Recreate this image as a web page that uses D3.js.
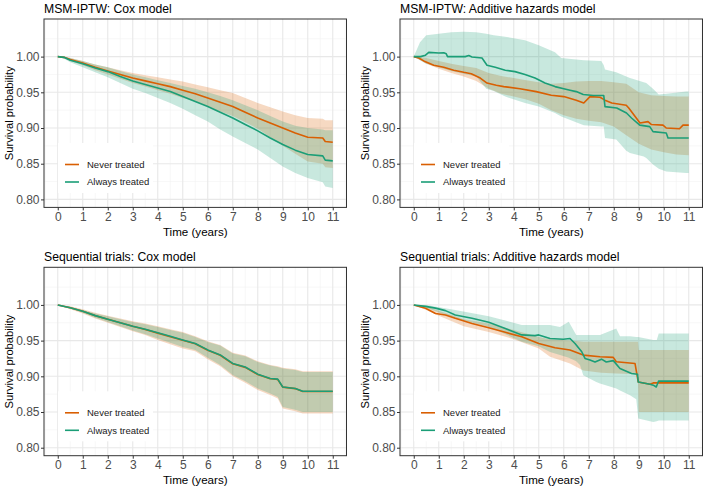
<!DOCTYPE html>
<html><head><meta charset="utf-8">
<script src="https://cdn.jsdelivr.net/npm/d3@7"></script>
<style>body{margin:0;background:#fff}svg{display:block}text{font-family:"Liberation Sans",Arial,sans-serif}</style>
</head><body>
<svg id="chart" width="709" height="492"></svg>
<script>
// ---------- data ----------
const categories = ["Never treated", "Always treated"];
const panelTitles = ["MSM-IPTW: Cox model", "MSM-IPTW: Additive hazards model",
  "Sequential trials: Cox model", "Sequential trials: Additive hazards model"];
const xTicks = [0,1,2,3,4,5,6,7,8,9,10,11];
const yTicks = [0.80,0.85,0.90,0.95,1.00];
const xLabel = "Time (years)";
const yLabel = "Survival probability";

// Panel 1: MSM-IPTW Cox
const p1T = [0,0.25,0.5,1,1.5,2,2.5,3,3.5,4,4.5,5,5.5,6,6.5,7,7.5,8,8.5,9,9.5,10,10.6,10.7,11];
const p1NeverEst = [1.000,0.999,0.996,0.991,0.985,0.980,0.975,0.970,0.966,0.962,0.958,0.953,0.948,0.942,0.936,0.930,0.922,0.914,0.907,0.900,0.893,0.887,0.886,0.881,0.880];
const p1NeverLo  = [1.000,0.998,0.994,0.988,0.981,0.975,0.969,0.963,0.958,0.953,0.948,0.942,0.937,0.930,0.923,0.917,0.908,0.899,0.887,0.875,0.864,0.853,0.850,0.845,0.844];
const p1NeverHi  = [1.000,1.000,0.998,0.994,0.989,0.985,0.981,0.977,0.974,0.971,0.968,0.965,0.961,0.957,0.953,0.949,0.942,0.935,0.929,0.923,0.918,0.914,0.913,0.911,0.911];
const p1AlwaysEst = [1.000,0.999,0.995,0.990,0.984,0.979,0.972,0.966,0.961,0.956,0.951,0.944,0.937,0.930,0.922,0.914,0.905,0.896,0.886,0.877,0.869,0.863,0.861,0.855,0.854];
const p1AlwaysLo  = [1.000,0.997,0.992,0.985,0.978,0.971,0.963,0.955,0.949,0.942,0.935,0.927,0.918,0.909,0.898,0.888,0.879,0.870,0.858,0.846,0.837,0.830,0.824,0.818,0.816];
const p1AlwaysHi  = [1.000,1.000,0.998,0.994,0.989,0.985,0.980,0.975,0.971,0.967,0.963,0.959,0.955,0.950,0.945,0.939,0.932,0.925,0.917,0.909,0.903,0.900,0.898,0.897,0.897];

// Panel 2: MSM-IPTW additive hazards
const p2NeverT   = [0,0.2,0.4,0.8,1.2,1.6,2.0,2.3,2.66,2.93,3.3,3.6,4.25,4.9,5.5,6.0,6.5,6.8,7.05,7.45,7.65,7.92,8.5,8.6,9.05,9.37,9.5,9.97,10.1,10.63,10.77,11];
const p2NeverEst = [1.000,0.998,0.994,0.988,0.985,0.981,0.978,0.976,0.970,0.963,0.960,0.958,0.955,0.951,0.946,0.944,0.939,0.935,0.944,0.943,0.939,0.935,0.932,0.928,0.907,0.909,0.905,0.904,0.900,0.899,0.904,0.904];
const p2NeverBandT = [0,0.5,1,1.5,2,2.5,3,3.5,4,4.5,5,5.5,6,6.5,7,7.5,8,8.5,9,9.5,10,10.5,11];
const p2NeverLo  = [1.000,0.990,0.983,0.977,0.972,0.966,0.955,0.948,0.944,0.940,0.934,0.925,0.918,0.913,0.910,0.908,0.902,0.890,0.878,0.870,0.866,0.863,0.862];
const p2NeverHi  = [1.000,0.998,0.994,0.990,0.987,0.984,0.977,0.973,0.970,0.967,0.964,0.962,0.963,0.965,0.966,0.966,0.964,0.962,0.950,0.946,0.945,0.944,0.944];
const p2AlwaysT   = [0,0.27,0.47,0.6,1.0,1.2,1.3,1.35,2.06,2.2,2.33,2.73,2.93,3.26,3.66,4.05,4.45,4.85,5.25,5.65,6.0,6.25,6.5,6.78,7.18,7.6,7.65,8.12,8.51,8.71,9.04,9.44,9.57,10.1,10.17,11];
const p2AlwaysEst = [1.000,1.000,1.002,1.006,1.005,1.0055,1.004,1.000,1.000,1.0015,0.9995,0.998,0.988,0.985,0.981,0.979,0.975,0.970,0.963,0.958,0.955,0.953,0.951,0.947,0.9455,0.9455,0.930,0.928,0.921,0.914,0.904,0.902,0.895,0.893,0.886,0.886];
const p2AlwaysBandT = [0,0.25,0.5,1,1.5,2,2.5,2.9,3.2,3.66,4.45,5.0,5.65,5.9,6.8,7.5,7.6,7.65,8.1,8.5,8.65,9.2,9.3,9.57,9.8,10.1,10.9,11];
const p2AlwaysHi  = [1.000,1.020,1.030,1.032,1.034,1.035,1.034,1.032,1.030,1.028,1.023,1.016,1.006,0.998,0.995,0.994,0.988,0.982,0.978,0.972,0.970,0.964,0.963,0.955,0.947,0.948,0.951,0.951];
const p2AlwaysLo  = [1.000,0.995,0.990,0.985,0.980,0.976,0.972,0.955,0.952,0.944,0.935,0.930,0.921,0.916,0.904,0.902,0.902,0.886,0.884,0.868,0.865,0.860,0.858,0.849,0.843,0.839,0.837,0.837];

// Panel 3: Sequential trials Cox
const p3T = [0,0.5,1,1.5,2,2.5,3,3.5,4,4.5,5,5.5,6,6.5,7,7.5,8,8.5,8.8,9,9.5,9.8,11];
const p3NeverEst = [1.000,0.996,0.991,0.985,0.980,0.975,0.970,0.9655,0.9605,0.9555,0.9505,0.9455,0.9365,0.9295,0.9175,0.9125,0.9025,0.8965,0.8955,0.8848,0.8828,0.8788,0.8788];
const p3NeverLo  = [1.000,0.994,0.988,0.981,0.975,0.969,0.963,0.958,0.951,0.945,0.939,0.935,0.924,0.914,0.900,0.891,0.881,0.874,0.869,0.855,0.851,0.848,0.848];
const p3NeverHi  = [1.000,0.998,0.994,0.989,0.985,0.981,0.977,0.974,0.970,0.966,0.962,0.956,0.949,0.944,0.933,0.929,0.921,0.916,0.914,0.912,0.910,0.907,0.907];
const p3AlwaysEst = [1.000,0.996,0.991,0.985,0.980,0.975,0.970,0.966,0.961,0.956,0.951,0.946,0.937,0.930,0.918,0.913,0.903,0.897,0.896,0.885,0.883,0.879,0.879];
const p3AlwaysLo  = [1.000,0.995,0.989,0.982,0.976,0.970,0.964,0.959,0.953,0.947,0.941,0.937,0.926,0.916,0.902,0.893,0.883,0.876,0.871,0.857,0.853,0.850,0.850];
const p3AlwaysHi  = [1.000,0.997,0.993,0.988,0.984,0.980,0.976,0.973,0.969,0.965,0.961,0.955,0.948,0.943,0.932,0.928,0.920,0.915,0.913,0.911,0.909,0.906,0.906];

// Panel 4: Sequential trials additive hazards
const p4NeverT   = [0,0.47,0.87,1.27,1.66,2.33,3.0,3.66,4.32,5.0,5.65,6.25,6.78,7.45,7.98,8.1,8.85,8.98,9.45,9.58,11];
const p4NeverEst = [1.000,0.9953,0.988,0.986,0.9813,0.974,0.968,0.9616,0.9555,0.946,0.940,0.9368,0.9297,0.9274,0.9265,0.9203,0.918,0.892,0.889,0.8908,0.8908];
const p4NeverBandT = [0,0.5,1,2,3,4,5,5.45,6.25,6.78,7.5,8.1,8.97,9.0,11];
const p4NeverLo  = [1.000,0.993,0.985,0.970,0.962,0.952,0.939,0.9274,0.918,0.908,0.905,0.904,0.903,0.850,0.850];
const p4NeverHi  = [1.000,0.998,0.992,0.980,0.974,0.965,0.955,0.952,0.950,0.9485,0.9485,0.9485,0.9485,0.9368,0.9368];
const p4AlwaysT   = [0,0.47,0.87,1.27,1.66,2.33,3.0,3.66,4.32,4.85,5.0,5.45,5.98,6.25,6.45,6.72,6.85,7.05,7.25,7.51,7.7,7.98,8.25,8.71,8.95,8.98,9.45,9.58,9.7,9.79,11];
const p4AlwaysEst = [1.000,0.998,0.9955,0.992,0.986,0.9813,0.9756,0.967,0.958,0.957,0.958,0.953,0.952,0.953,0.946,0.9344,0.925,0.9227,0.920,0.924,0.920,0.922,0.911,0.904,0.903,0.892,0.889,0.8876,0.885,0.8932,0.8932];
const p4AlwaysBandT = [0,0.5,1.66,3.0,4.32,5.0,5.45,5.85,6.2,6.5,6.65,6.78,7.3,7.45,8.1,8.25,8.65,8.9,8.98,9.58,9.72,9.8,11];
const p4AlwaysHi  = [1.000,1.000,0.993,0.984,0.972,0.972,0.972,0.969,0.9766,0.958,0.958,0.958,0.958,0.958,0.967,0.956,0.956,0.955,0.955,0.951,0.951,0.960,0.960];
const p4AlwaysLo  = [1.000,0.996,0.981,0.9695,0.9485,0.942,0.934,0.930,0.926,0.921,0.9157,0.9016,0.892,0.890,0.883,0.880,0.8735,0.868,0.8408,0.836,0.837,0.838,0.838];

// ---------- assemble ----------
const panels = [
  { title: panelTitles[0],
    series: [
      {name: categories[0], t: p1T, est: p1NeverEst, bt: p1T, lo: p1NeverLo, hi: p1NeverHi},
      {name: categories[1], t: p1T, est: p1AlwaysEst, bt: p1T, lo: p1AlwaysLo, hi: p1AlwaysHi}]},
  { title: panelTitles[1],
    series: [
      {name: categories[0], t: p2NeverT, est: p2NeverEst, bt: p2NeverBandT, lo: p2NeverLo, hi: p2NeverHi},
      {name: categories[1], t: p2AlwaysT, est: p2AlwaysEst, bt: p2AlwaysBandT, lo: p2AlwaysLo, hi: p2AlwaysHi}]},
  { title: panelTitles[2],
    series: [
      {name: categories[0], t: p3T, est: p3NeverEst, bt: p3T, lo: p3NeverLo, hi: p3NeverHi},
      {name: categories[1], t: p3T, est: p3AlwaysEst, bt: p3T, lo: p3AlwaysLo, hi: p3AlwaysHi}]},
  { title: panelTitles[3],
    series: [
      {name: categories[0], t: p4NeverT, est: p4NeverEst, bt: p4NeverBandT, lo: p4NeverLo, hi: p4NeverHi},
      {name: categories[1], t: p4AlwaysT, est: p4AlwaysEst, bt: p4AlwaysBandT, lo: p4AlwaysLo, hi: p4AlwaysHi}]}
];

const colors = d3.scaleOrdinal().domain(categories).range(["#D95F02", "#1B9E77"]);

// ---------- layout ----------
const svg = d3.select("#chart");
const colLeft = [44, 400];
const rowTop = [19, 267.3];
const pw = 302.5, ph = 188.4;
const xMinor = d3.range(-0.5, 11.6, 1);
const yMinor = [0.825, 0.875, 0.925, 0.975, 1.025];

panels.forEach((p, i) => {
  const left = colLeft[i % 2], top = rowTop[Math.floor(i / 2)];
  const x = d3.scaleLinear().domain([-0.55, 11.55]).range([left, left + pw]);
  const y = d3.scaleLinear().domain([0.7888, 1.0527]).range([top + ph, top]);
  const g = svg.append("g");

  // background
  g.append("rect").attr("x", left).attr("y", top).attr("width", pw).attr("height", ph).attr("fill", "#fff");

  // grid
  const grid = g.append("g");
  grid.selectAll(".xm").data(xMinor).join("line")
    .attr("x1", d => x(d)).attr("x2", d => x(d)).attr("y1", top).attr("y2", top + ph)
    .attr("stroke", "#f2f2f2").attr("stroke-width", 0.6);
  grid.selectAll(".ym").data(yMinor).join("line")
    .attr("y1", d => y(d)).attr("y2", d => y(d)).attr("x1", left).attr("x2", left + pw)
    .attr("stroke", "#f2f2f2").attr("stroke-width", 0.6);
  grid.selectAll(".xM").data(xTicks).join("line")
    .attr("x1", d => x(d)).attr("x2", d => x(d)).attr("y1", top).attr("y2", top + ph)
    .attr("stroke", "#e8e8e8").attr("stroke-width", 1.1);
  grid.selectAll(".yM").data(yTicks).join("line")
    .attr("y1", d => y(d)).attr("y2", d => y(d)).attr("x1", left).attr("x2", left + pw)
    .attr("stroke", "#e8e8e8").attr("stroke-width", 1.1);

  // ribbons
  p.series.forEach(s => {
    const pts = s.bt.map((t, k) => ({t, lo: s.lo[k], hi: s.hi[k]}));
    const area = d3.area().x(d => x(d.t)).y0(d => y(d.lo)).y1(d => y(d.hi));
    g.append("path").datum(pts).attr("d", area)
      .attr("fill", colors(s.name)).attr("fill-opacity", 0.24);
  });
  // lines
  p.series.forEach(s => {
    const pts = s.t.map((t, k) => ({t, v: s.est[k]}));
    const line = d3.line().x(d => x(d.t)).y(d => y(d.v));
    g.append("path").datum(pts).attr("d", line)
      .attr("fill", "none").attr("stroke", colors(s.name)).attr("stroke-width", 1.6)
      .attr("stroke-linejoin", "round");
  });

  // legend
  const lg = g.append("g");
  lg.append("rect").attr("x", left + 14).attr("y", top + 124).attr("width", 95).attr("height", 50).attr("fill", "#fff");
  categories.forEach((c, k) => {
    const ly = top + 145.5 + k * 17.5;
    lg.append("line").attr("x1", left + 21).attr("x2", left + 35).attr("y1", ly).attr("y2", ly)
      .attr("stroke", colors(c)).attr("stroke-width", 1.6);
    lg.append("text").attr("x", left + 43).attr("y", ly).attr("dy", "0.35em")
      .attr("font-size", 9.5).attr("fill", "#1a1a1a").text(c);
  });

  // border
  g.append("rect").attr("x", left).attr("y", top).attr("width", pw).attr("height", ph)
    .attr("fill", "none").attr("stroke", "#333").attr("stroke-width", 1);

  // axes
  const xAxis = d3.axisBottom(x).tickValues(xTicks).tickSize(3).tickPadding(2).tickFormat(d3.format("d"));
  const ax = g.append("g").attr("transform", `translate(0,${top + ph})`).call(xAxis);
  ax.select(".domain").remove();
  ax.selectAll("line").attr("stroke", "#333");
  ax.selectAll("text").attr("font-size", 12).attr("fill", "#4d4d4d").attr("font-family", "Liberation Sans, Arial, sans-serif");

  const yAxis = d3.axisLeft(y).tickValues(yTicks).tickSize(3).tickPadding(1.5).tickFormat(d3.format(".2f"));
  const ay = g.append("g").attr("transform", `translate(${left},0)`).call(yAxis);
  ay.select(".domain").remove();
  ay.selectAll("line").attr("stroke", "#333");
  ay.selectAll("text").attr("font-size", 12).attr("fill", "#4d4d4d").attr("font-family", "Liberation Sans, Arial, sans-serif");

  // titles
  g.append("text").attr("x", left).attr("y", top - 6.3).attr("font-size", 12.2).attr("fill", "#000").text(p.title);
  g.append("text").attr("x", left + pw / 2).attr("y", top + ph + 28.5).attr("text-anchor", "middle")
    .attr("font-size", 11.6).attr("fill", "#000").text(xLabel);
  g.append("text").attr("transform", `translate(${left - 31.5},${top + ph / 2}) rotate(-90)`)
    .attr("text-anchor", "middle").attr("font-size", 11.2).attr("fill", "#000").text(yLabel);
});
</script>
</body></html>
